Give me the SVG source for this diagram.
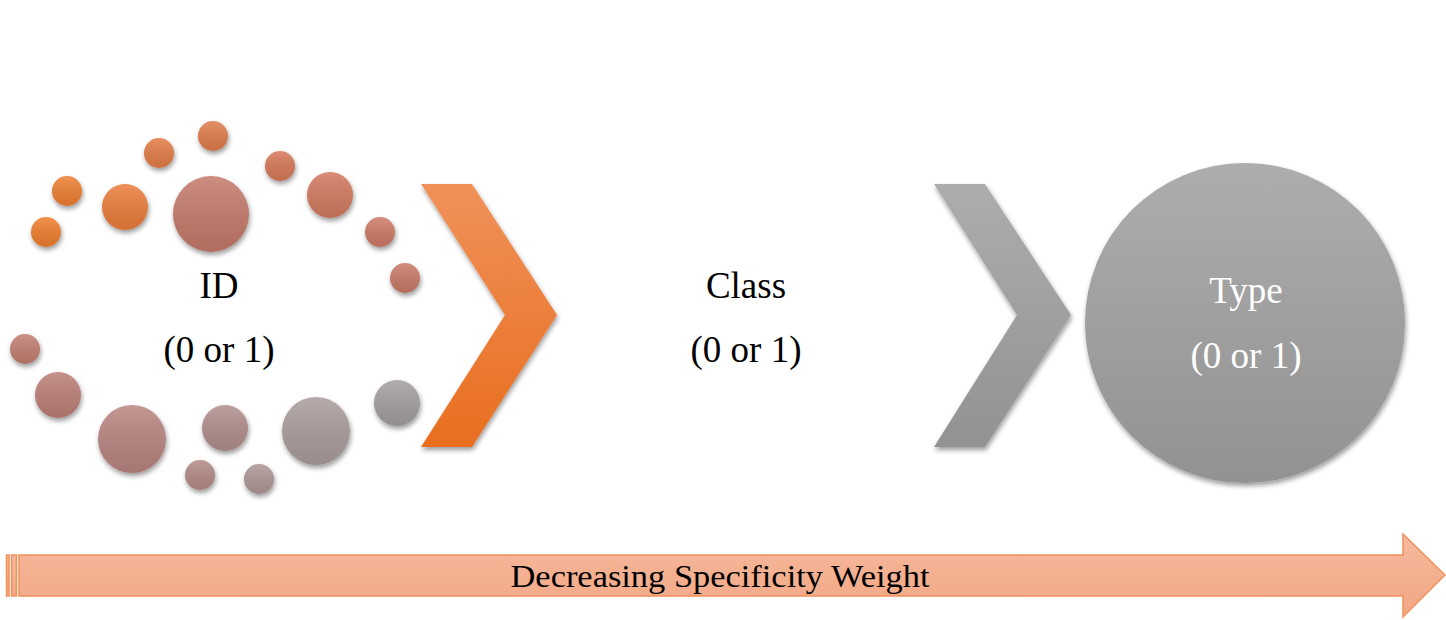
<svg xmlns="http://www.w3.org/2000/svg" width="1446" height="620" viewBox="0 0 1446 620">
<style>
.lbl{font-family:"Liberation Serif","DejaVu Serif",serif;font-size:37px;text-anchor:middle;fill:#000}
.wht{fill:#fff}
.shade{fill:url(#shade)}
</style>
<defs>
<filter id="sh" x="-30%" y="-30%" width="160%" height="160%">
<feGaussianBlur in="SourceAlpha" stdDeviation="2.5"/>
<feOffset dx="1" dy="3" result="b"/>
<feComponentTransfer><feFuncA type="linear" slope="0.4"/></feComponentTransfer>
<feMerge><feMergeNode/><feMergeNode in="SourceGraphic"/></feMerge>
</filter>
<linearGradient id="shade" x1="0" y1="0" x2="0" y2="1">
<stop offset="0" stop-color="#fff" stop-opacity="0.15"/>
<stop offset="1" stop-color="#000" stop-opacity="0.1"/>
</linearGradient>
<linearGradient id="og" x1="0" y1="0" x2="0" y2="1">
<stop offset="0" stop-color="#F0915A"/>
<stop offset="1" stop-color="#E86E1E"/>
</linearGradient>
<linearGradient id="gg" x1="0" y1="0" x2="0" y2="1">
<stop offset="0" stop-color="#ADADAD"/>
<stop offset="1" stop-color="#929292"/>
</linearGradient>
<linearGradient id="ag" x1="0" y1="0" x2="0" y2="1">
<stop offset="0" stop-color="#F6BA9D"/>
<stop offset="1" stop-color="#F2A684"/>
</linearGradient>
</defs>

<g id="id-node">
<g filter="url(#sh)">
<circle cx="46" cy="232" r="15" fill="#F07E2E"/>
<circle cx="67" cy="191" r="15" fill="#EE7F33"/>
<circle cx="125" cy="207" r="23" fill="#EB7D3A"/>
<circle cx="159" cy="153" r="15" fill="#E37B45"/>
<circle cx="213" cy="136" r="15" fill="#DF7B4B"/>
<circle cx="211" cy="214" r="38" fill="#C47A6A"/>
<circle cx="280" cy="166" r="15" fill="#D67858"/>
<circle cx="330" cy="195" r="23" fill="#D37A5E"/>
<circle cx="380" cy="232" r="15" fill="#CE7A66"/>
<circle cx="405" cy="278" r="15" fill="#C87A68"/>
<circle cx="25" cy="349" r="15" fill="#C27E72"/>
<circle cx="58" cy="395" r="23" fill="#BC8078"/>
<circle cx="132" cy="439" r="34" fill="#B98580"/>
<circle cx="225" cy="428" r="23" fill="#B08F8C"/>
<circle cx="200" cy="475" r="15" fill="#B48A86"/>
<circle cx="259" cy="479" r="15" fill="#AE9795"/>
<circle cx="316" cy="431" r="34" fill="#AB9D9C"/>
<circle cx="397" cy="403" r="23" fill="#A59F9F"/>
</g>
<g class="shade">
<circle cx="46" cy="232" r="15"/><circle cx="67" cy="191" r="15"/><circle cx="125" cy="207" r="23"/>
<circle cx="159" cy="153" r="15"/><circle cx="213" cy="136" r="15"/><circle cx="211" cy="214" r="38"/>
<circle cx="280" cy="166" r="15"/><circle cx="330" cy="195" r="23"/><circle cx="380" cy="232" r="15"/>
<circle cx="405" cy="278" r="15"/><circle cx="25" cy="349" r="15"/><circle cx="58" cy="395" r="23"/>
<circle cx="132" cy="439" r="34"/><circle cx="225" cy="428" r="23"/><circle cx="200" cy="475" r="15"/>
<circle cx="259" cy="479" r="15"/><circle cx="316" cy="431" r="34"/><circle cx="397" cy="403" r="23"/>
</g>
<text class="lbl" x="219" y="298">ID</text>
<text class="lbl" x="219" y="362">(0 or 1)</text>
</g>

<g id="class-node">
<text class="lbl" x="746" y="298">Class</text>
<text class="lbl" x="746" y="362">(0 or 1)</text>
</g>

<g id="type-node">
<circle cx="1245" cy="323" r="160" fill="url(#gg)" filter="url(#sh)"/>
<text class="lbl wht" x="1246" y="303">Type</text>
<text class="lbl wht" x="1246" y="368">(0 or 1)</text>
</g>

<g id="connectors">
<polygon points="421,184 472,184 557,315 472,447 421,447 505,315" fill="url(#og)" filter="url(#sh)"/>
<polygon points="934,184 985,184 1071,315 985,447 934,447 1017,315" fill="url(#gg)" filter="url(#sh)"/>
</g>

<g id="weight-arrow">
<g fill="url(#ag)" stroke="#F0915A" stroke-width="1.5">
<rect x="6.5" y="555" width="2.5" height="41"/>
<rect x="11.5" y="555" width="5" height="41"/>
<path d="M19,555 H1403 V534 L1445,575 L1403,617 V596 H19 Z"/>
</g>
<text class="lbl" x="720" y="587" style="font-size:32px" textLength="419" lengthAdjust="spacingAndGlyphs">Decreasing Specificity Weight</text>
</g>
</svg>
